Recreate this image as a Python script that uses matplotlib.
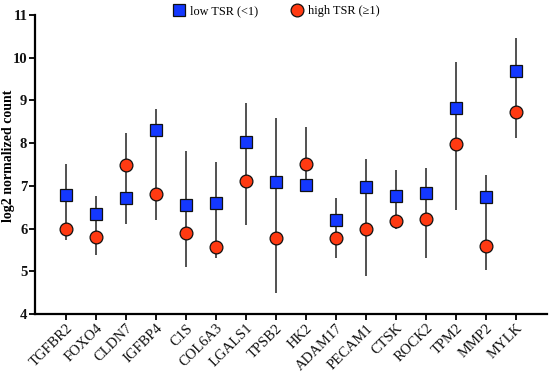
import matplotlib
matplotlib.use("Agg")
import matplotlib.pyplot as plt
import numpy as np

genes = ["TGFBR2", "FOXO4", "CLDN7", "IGFBP4", "C1S", "COL6A3", "LGALS1", "TPSB2",
         "HK2", "ADAM17", "PECAM1", "CTSK", "ROCK2", "TPM2", "MMP2", "MYLK"]
low_tsr = [6.79, 6.34, 6.71, 8.30, 6.56, 6.60, 8.03, 7.10,
           7.03, 6.21, 6.97, 6.77, 6.84, 8.83, 6.74, 9.69]
high_tsr = [5.99, 5.81, 7.49, 6.82, 5.89, 5.56, 7.12, 5.77,
            7.52, 5.79, 5.99, 6.18, 6.23, 7.99, 5.58, 8.73]
range_top = [7.51, 6.76, 8.23, 8.81, 7.82, 7.56, 8.93, 8.58,
             8.37, 6.71, 7.64, 7.38, 7.41, 9.89, 7.25, 10.46]
range_bottom = [5.73, 5.38, 6.10, 6.20, 5.09, 5.30, 6.08, 4.48,
                6.97, 5.30, 4.89, 5.99, 5.30, 6.43, 5.03, 8.12]

plt.rcParams['font.family'] = ['Liberation Serif', 'DejaVu Serif']

fig = plt.figure(figsize=(5.5, 3.76), dpi=100)
ax = fig.add_axes([0.0636, 0.165, 0.931, 0.795])

x = np.arange(len(genes))
ax.vlines(x, range_bottom, range_top, color='#222222', lw=1.1, zorder=1)
ax.plot(x, low_tsr, 's', ms=8.8, mfc='#1438ff', mec='#111111', mew=0.9,
        ls='none', zorder=3, label='low TSR (<1)')
ax.plot(x, high_tsr, 'o', ms=9.2, mfc='#ff3a12', mec='#111111', mew=0.9,
        ls='none', zorder=3, label='high TSR (≥1)')

ax.set_xlim(-1.03, 16.03)
ax.set_ylim(4, 11)
ax.set_yticks(range(4, 12))
ax.set_xticks(x)
ax.set_xticklabels(genes, rotation=45, ha='right', rotation_mode='anchor',
                   fontsize=10.5)
for lab in ax.get_yticklabels():
    lab.set_fontweight('bold')
    lab.set_fontsize(10.5)
ax.set_ylabel('log2 normalized count', fontsize=10, fontweight='bold', va='center')
ax.yaxis.set_label_coords(-0.051, 0.53)

for s in ['top', 'right']:
    ax.spines[s].set_visible(False)
for s in ['left', 'bottom']:
    ax.spines[s].set_linewidth(1.6)
ax.tick_params(axis='both', width=1.4, length=4, pad=1.5, colors='#111111')

ax.legend(loc='upper center', bbox_to_anchor=(0.47, 1.07), ncol=2, frameon=False,
          fontsize=8.8, handletextpad=0.25, columnspacing=2.6, handlelength=1.2)

fig.savefig('out.png', dpi=100)
